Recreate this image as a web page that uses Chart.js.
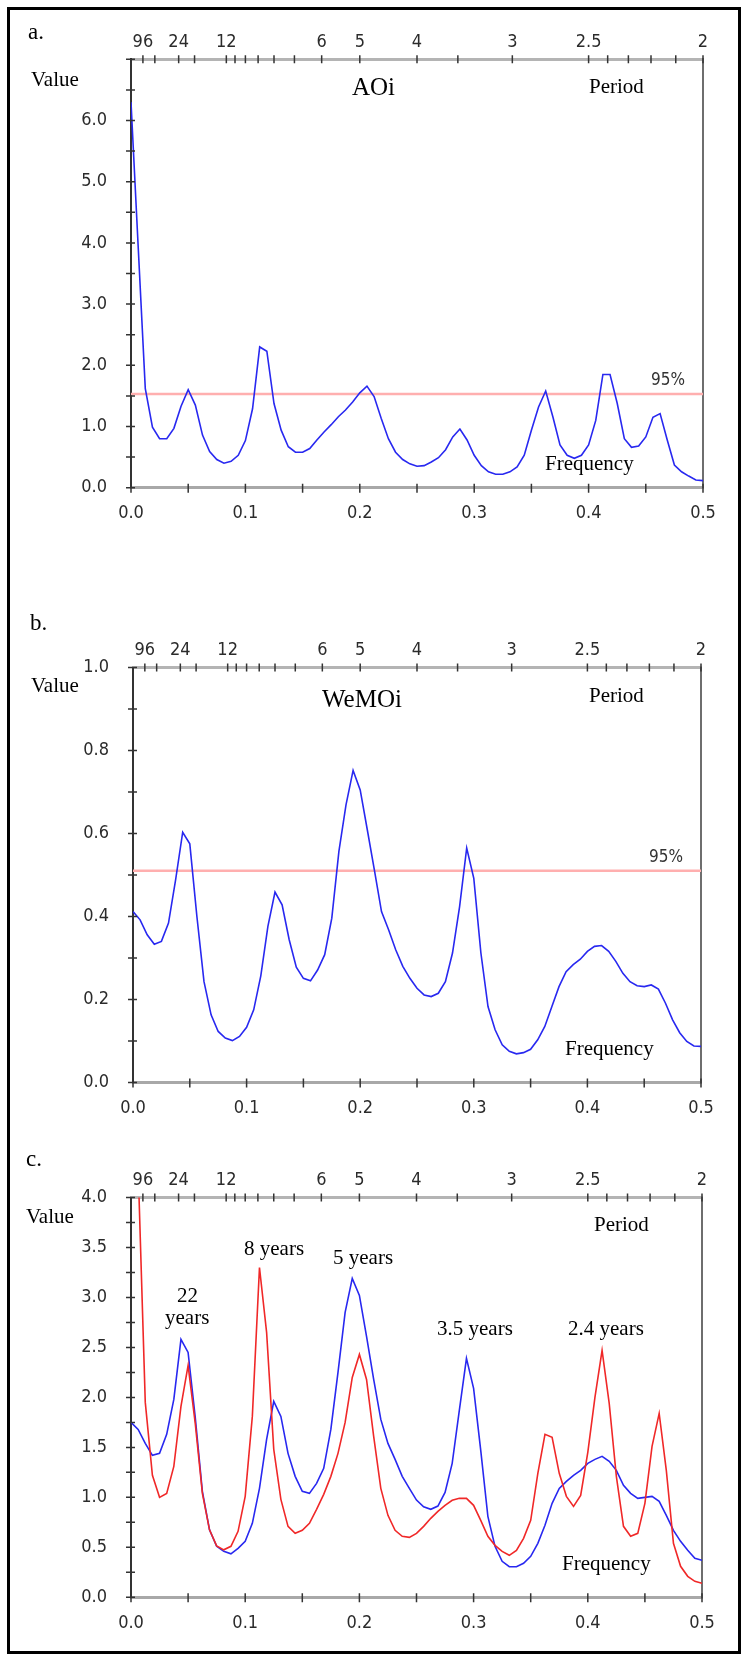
<!DOCTYPE html>
<html>
<head>
<meta charset="utf-8">
<script src="https://cdn.jsdelivr.net/npm/chart.js@4.4.0/dist/chart.umd.min.js"></script>
<style>
  html, body { margin: 0; padding: 0; background: #fff; }
  #page { position: relative; width: 742px; height: 1655px; overflow: hidden; }
  #frame { position: absolute; left: 7px; top: 7px; width: 734px; height: 1647px; border: 3px solid #000; box-sizing: border-box; }
  canvas { position: absolute; left: 0; }
  .txt { position: absolute; font-family: 'Liberation Serif', 'Times New Roman', serif; color: #000; line-height: 1; white-space: nowrap; }
</style>
</head>
<body>
<div id="page">
  <div id="frame"></div>
  <canvas id="chartA" width="742" height="545" style="top:0px"></canvas>
  <canvas id="chartB" width="742" height="540" style="top:600px"></canvas>
  <canvas id="chartC" width="742" height="505" style="top:1140px"></canvas>
</div>
<script>
// frequency grid of the spectra
const freq = [0, 0.00625, 0.0125, 0.01875, 0.025, 0.03125, 0.0375, 0.04375, 0.05, 0.05625,
  0.0625, 0.06875, 0.075, 0.08125, 0.0875, 0.09375, 0.1, 0.10625, 0.1125, 0.11875,
  0.125, 0.13125, 0.1375, 0.14375, 0.15, 0.15625, 0.1625, 0.16875, 0.175, 0.18125,
  0.1875, 0.19375, 0.2, 0.20625, 0.2125, 0.21875, 0.225, 0.23125, 0.2375, 0.24375,
  0.25, 0.25625, 0.2625, 0.26875, 0.275, 0.28125, 0.2875, 0.29375, 0.3, 0.30625,
  0.3125, 0.31875, 0.325, 0.33125, 0.3375, 0.34375, 0.35, 0.35625, 0.3625, 0.36875,
  0.375, 0.38125, 0.3875, 0.39375, 0.4, 0.40625, 0.4125, 0.41875, 0.425, 0.43125,
  0.4375, 0.44375, 0.45, 0.45625, 0.4625, 0.46875, 0.475, 0.48125, 0.4875, 0.49375, 0.5];

// a. AOi spectrum
const aoiValues = [6.3, 3.95, 1.62, 0.99, 0.80, 0.80, 0.97, 1.33, 1.60, 1.35,
  0.86, 0.59, 0.46, 0.40, 0.43, 0.53, 0.77, 1.29, 2.30, 2.23,
  1.375, 0.94, 0.67, 0.58, 0.58, 0.64, 0.78, 0.91, 1.03, 1.16,
  1.27, 1.40, 1.55, 1.66, 1.49, 1.13, 0.80, 0.58, 0.46, 0.39,
  0.35, 0.36, 0.42, 0.49, 0.62, 0.83, 0.96, 0.78, 0.53, 0.36,
  0.26, 0.22, 0.22, 0.26, 0.34, 0.53, 0.94, 1.32, 1.58, 1.16,
  0.70, 0.53, 0.48, 0.53, 0.70, 1.10, 1.85, 1.85, 1.38, 0.80,
  0.66, 0.68, 0.83, 1.15, 1.21, 0.78, 0.37, 0.26, 0.19, 0.125, 0.115];
const aoiLevel95 = 1.53;

// b. WeMOi spectrum
const wemoiValues = [0.412, 0.392, 0.356, 0.333, 0.340, 0.384, 0.488, 0.603, 0.575, 0.40,
  0.243, 0.163, 0.123, 0.107, 0.101, 0.111, 0.133, 0.175, 0.257, 0.376,
  0.459, 0.428, 0.344, 0.278, 0.251, 0.245, 0.271, 0.308, 0.396, 0.557,
  0.669, 0.752, 0.705, 0.609, 0.512, 0.412, 0.368, 0.320, 0.280, 0.251,
  0.227, 0.211, 0.207, 0.215, 0.243, 0.312, 0.424, 0.565, 0.492, 0.312,
  0.183, 0.127, 0.091, 0.075, 0.069, 0.072, 0.080, 0.103, 0.135, 0.183,
  0.231, 0.267, 0.284, 0.297, 0.316, 0.328, 0.330, 0.316, 0.292, 0.263,
  0.243, 0.233, 0.231, 0.235, 0.225, 0.191, 0.151, 0.120, 0.099, 0.088, 0.087];
const wemoiLevel95 = 0.51;

// c. the two spectra together
const cBlueValues = [1.75, 1.68, 1.54, 1.42, 1.44, 1.63, 1.98, 2.58, 2.45, 1.80,
  1.06, 0.675, 0.51, 0.46, 0.435, 0.49, 0.56, 0.74, 1.09, 1.58,
  1.96, 1.81, 1.44, 1.21, 1.06, 1.04, 1.14, 1.29, 1.68, 2.25,
  2.85, 3.19, 3.02, 2.61, 2.18, 1.78, 1.54, 1.38, 1.21, 1.09,
  0.973, 0.906, 0.88, 0.913, 1.05, 1.34, 1.87, 2.39, 2.09, 1.47,
  0.81, 0.51, 0.36, 0.306, 0.306, 0.34, 0.41, 0.54, 0.72, 0.94,
  1.09, 1.16, 1.22, 1.27, 1.34, 1.38, 1.41, 1.36, 1.27, 1.12,
  1.04, 0.99, 1.00, 1.01, 0.96, 0.82, 0.67, 0.56, 0.47, 0.39, 0.37];
const cRedValues = [6.0, 4.3, 1.95, 1.22, 1.00, 1.04, 1.31, 1.91, 2.32, 1.74,
  1.04, 0.675, 0.515, 0.475, 0.51, 0.66, 1.01, 1.81, 3.30, 2.65,
  1.48, 0.98, 0.71, 0.64, 0.67, 0.74, 0.88, 1.03, 1.21, 1.44,
  1.75, 2.20, 2.43, 2.18, 1.61, 1.09, 0.82, 0.67, 0.61, 0.60,
  0.64, 0.71, 0.79, 0.86, 0.92, 0.97, 0.99, 0.99, 0.92, 0.77,
  0.61, 0.52, 0.46, 0.42, 0.47, 0.59, 0.77, 1.24, 1.63, 1.60,
  1.24, 1.01, 0.91, 1.02, 1.45, 2.00, 2.47, 1.94, 1.21, 0.71,
  0.61, 0.64, 0.94, 1.51, 1.84, 1.27, 0.54, 0.31, 0.21, 0.16, 0.14];

// period axis on top (years)
const periodTicks = [96, 48, 24, 18, 12, 11, 10, 9, 8, 7, 6, 5, 4, 3.5, 3, 2.5, 2.4, 2.3, 2.2, 2.1, 2];
const periodLabels = [96, 24, 12, 6, 5, 4, 3, 2.5, 2];

const BLUE = 'rgb(40,40,240)';
const RED = 'rgb(240,40,40)';
const PINK = 'rgb(255,175,175)';
const tickFont = { family: "'Liberation Sans Narrow', 'DejaVu Sans Condensed', 'Arial Narrow', sans-serif", size: 18 };

// small tick marks that cross the axes, plus the 95% label
const crossTicks = {
  id: 'crossTicks',
  afterDraw(chart, args, opts) {
    const ctx = chart.ctx, area = chart.chartArea, sc = chart.scales;
    ctx.save();
    ctx.strokeStyle = '#333';
    ctx.lineWidth = 1.5;
    ctx.beginPath();
    sc.x.ticks.forEach(t => {
      const px = sc.x.getPixelForValue(t.value);
      ctx.moveTo(px, area.bottom - 4); ctx.lineTo(px, area.bottom + 5);
    });
    sc.xTop.ticks.forEach(t => {
      const px = sc.xTop.getPixelForValue(t.value);
      ctx.moveTo(px, area.top - 4); ctx.lineTo(px, area.top + 4);
    });
    sc.y.ticks.forEach(t => {
      const py = sc.y.getPixelForValue(t.value);
      ctx.moveTo(area.left - 5, py); ctx.lineTo(area.left + 4, py);
    });
    ctx.stroke();
    if (opts.level != null) {
      const py = sc.y.getPixelForValue(opts.level);
      ctx.fillStyle = '#333';
      ctx.font = "17px 'Liberation Sans Narrow', 'DejaVu Sans Condensed', 'Arial Narrow', sans-serif";
      ctx.textAlign = 'right';
      ctx.textBaseline = 'alphabetic';
      ctx.fillText('95%', area.right - 18, py - 9);
    }
    ctx.restore();
  }
};

function line(values, color) {
  return {
    data: values.map((v, i) => ({ x: freq[i], y: v })),
    borderColor: color, borderWidth: 1.6, pointRadius: 0, tension: 0, fill: false,
    xAxisID: 'x', yAxisID: 'y'
  };
}

function level(v) {
  return {
    data: [{ x: 0, y: v }, { x: 0.5, y: v }],
    borderColor: PINK, borderWidth: 2.5, pointRadius: 0, fill: false,
    xAxisID: 'x', yAxisID: 'y'
  };
}

function makeChart(id, box, datasets, yMax, yStep, yLabelled, lvl) {
  const cv = document.getElementById(id);
  return new Chart(cv, {
    type: 'line',
    data: { datasets: datasets },
    plugins: [crossTicks],
    options: {
      responsive: false,
      animation: false,
      devicePixelRatio: 1,
      layout: { padding: 0 },
      plugins: { legend: { display: false }, tooltip: { enabled: false }, crossTicks: { level: lvl } },
      scales: {
        x: {
          type: 'linear', position: 'bottom', min: 0, max: 0.5,
          grid: { display: false, drawTicks: false },
          border: { color: '#a8a8a8', width: 3 },
          ticks: {
            stepSize: 0.05, maxTicksLimit: 100, autoSkip: false, maxRotation: 0, padding: 15,
            font: tickFont, color: '#2b2b2b',
            callback: v => (Math.round(v * 20) % 2 === 0 ? v.toFixed(1) : '')
          },
          afterFit: s => { s.height = cv.height - box.bottom; }
        },
        xTop: {
          type: 'linear', position: 'top', min: 0, max: 0.5,
          grid: { display: false, drawTicks: false },
          border: { color: '#b4b4b4', width: 3 },
          afterBuildTicks: s => { s.ticks = periodTicks.map(p => ({ value: 1 / p })); },
          ticks: {
            autoSkip: false, maxRotation: 0, padding: 6, font: tickFont, color: '#2b2b2b',
            callback: v => {
              const p = Math.round(10 / v) / 10;
              return periodLabels.includes(p) ? String(p) : '';
            }
          },
          afterFit: s => { s.height = box.top; }
        },
        y: {
          type: 'linear', position: 'left', min: 0, max: yMax,
          grid: { display: false, drawTicks: false },
          border: { color: '#333', width: 2 },
          ticks: {
            stepSize: yStep, maxTicksLimit: 100, autoSkip: false, padding: 24,
            font: tickFont, color: '#2b2b2b',
            callback: v => (yLabelled(v) ? v.toFixed(1) : '')
          },
          afterFit: s => { s.width = box.left; }
        },
        y2: {
          type: 'linear', position: 'right', min: 0, max: 1,
          grid: { display: false, drawTicks: false },
          border: { color: '#6e6e6e', width: 2 },
          ticks: { display: false },
          afterFit: s => { s.width = cv.width - box.right; }
        }
      }
    }
  });
}

// chart boxes in canvas pixels: left, right, top, bottom of the plot area
makeChart('chartA', { left: 131, right: 703, top: 59.3, bottom: 487.7 },
  [line(aoiValues, BLUE), level(aoiLevel95)],
  7, 0.5, v => Math.abs(v - Math.round(v)) < 1e-6 && v < 6.5, aoiLevel95);

makeChart('chartB', { left: 133, right: 701, top: 67.5, bottom: 482.5 },
  [line(wemoiValues, BLUE), level(wemoiLevel95)],
  1, 0.1, v => Math.round(v * 10) % 2 === 0, wemoiLevel95);

makeChart('chartC', { left: 131, right: 702, top: 57.5, bottom: 457.3 },
  [line(cRedValues, RED), line(cBlueValues, BLUE)],
  4, 0.25, v => Math.round(v * 4) % 2 === 0, null);

// text written on the figure: [text, left, baseline, size]
const notes = [
  ['a.', 28, 39, 23], ['Value', 31, 86.5, 21], ['AOi', 352, 95, 25], ['Period', 589, 94, 21], ['Frequency', 545, 471, 21],
  ['b.', 30, 630, 23], ['Value', 31, 693, 21], ['WeMOi', 322, 706.5, 25], ['Period', 589, 703, 21], ['Frequency', 565, 1056, 21],
  ['c.', 26, 1166.5, 23], ['Value', 26, 1224, 21], ['Period', 594, 1232, 21],
  ['8 years', 244, 1256, 21], ['5 years', 333, 1265, 21], ['22', 177, 1302.5, 21], ['years', 165, 1325, 21],
  ['3.5 years', 437, 1336, 21], ['2.4 years', 568, 1336, 21], ['Frequency', 562, 1570.5, 21]
];
const page = document.getElementById('page');
notes.forEach(n => {
  const d = document.createElement('div');
  d.className = 'txt';
  d.textContent = n[0];
  d.style.fontSize = n[3] + 'px';
  d.style.left = n[1] + 'px';
  d.style.top = (n[2] - 0.8375 * n[3]) + 'px';
  page.appendChild(d);
});
</script>
</body>
</html>
